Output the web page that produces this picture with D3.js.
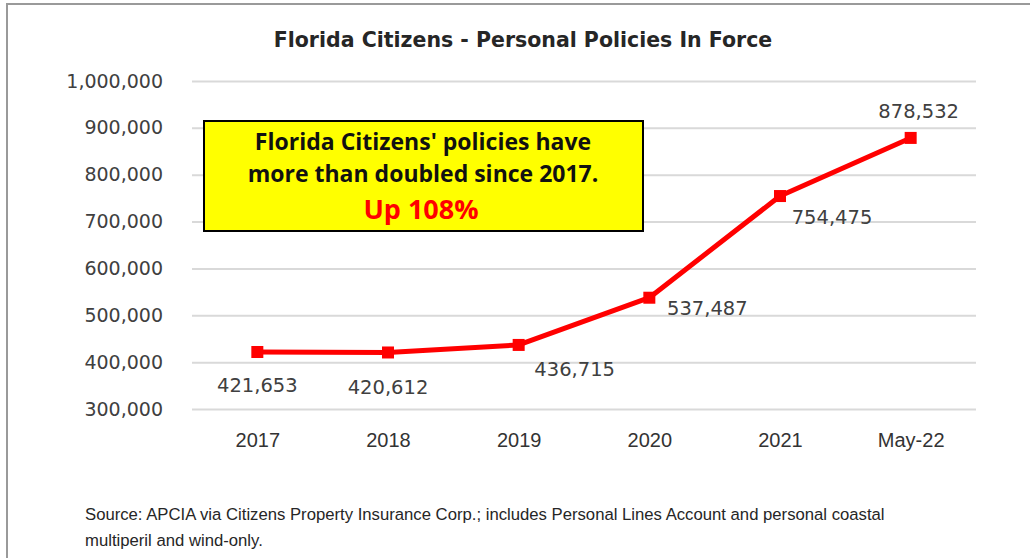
<!DOCTYPE html>
<html>
<head>
<meta charset="utf-8">
<script src="https://cdn.jsdelivr.net/npm/d3@7"></script>
<style>
  body { margin: 0; background: #fff; }
  svg { display: block; }
</style>
</head>
<body>
<div class="forSvg"></div>
<script>
// data
const categories = ["2017", "2018", "2019", "2020", "2021", "May-22"];
const policies = [421653, 420612, 436715, 537487, 754475, 878532];
const yTicks = [300000, 400000, 500000, 600000, 700000, 800000, 900000, 1000000];
const titleText = "Florida Citizens - Personal Policies In Force";
const noteLines = ["Florida Citizens' policies have", "more than doubled since 2017."];
const noteHighlight = "Up 108%";
const sourceLines = [
  "Source: APCIA via Citizens Property Insurance Corp.; includes Personal Lines Account and personal coastal",
  "multiperil and wind-only."
];

// label nudges (px) so they sit like the original
const labelDx = [0, 0, 56, 58, 52, 8];
const labelDy = [34, 35, 25, 11, 21, -26];

// svg size & plot area
const svg_w = 1030;
const svg_h = 558;
const plotL = 192, plotR = 976, plotT = 81, plotB = 409;

const svg = d3.select(".forSvg")
  .append("svg")
  .attr("width", svg_w)
  .attr("height", svg_h);

// outer frame (only top & left visible in the shot)
svg.append("rect")
  .attr("x", 7).attr("y", 4)
  .attr("width", svg_w + 20).attr("height", svg_h + 20)
  .attr("fill", "none")
  .attr("stroke", "#9a9a9a")
  .attr("stroke-width", 2);

const xScale = d3.scalePoint()
  .domain(categories)
  .range([plotL, plotR])
  .padding(0.5);

const yScale = d3.scaleLinear()
  .domain([300000, 1000000])
  .range([plotB, plotT]);

// y axis with gridlines
const yAxis = d3.axisLeft(yScale)
  .tickValues(yTicks)
  .tickSize(-(plotR - plotL))
  .tickPadding(29)
  .tickFormat(d3.format(","));

const gy = svg.append("g")
  .attr("transform", `translate(${plotL},0)`)
  .call(yAxis);
gy.select(".domain").remove();
gy.selectAll(".tick line").attr("stroke", "#d9d9d9").attr("stroke-width", 2);
gy.selectAll(".tick text")
  .attr("fill", "#404040")
  .style("font-family", "DejaVu Sans")
  .style("font-size", "19px");

// x axis labels
const xAxis = d3.axisBottom(xScale).tickSize(0);
const gx = svg.append("g")
  .attr("transform", `translate(0,${plotB})`)
  .call(xAxis);
gx.select(".domain").remove();
gx.selectAll(".tick text")
  .attr("y", 31)
  .attr("dy", "0.35em")
  .attr("fill", "#333")
  .style("font-family", "Liberation Sans")
  .style("font-size", "20px");

// title
svg.append("text")
  .attr("x", 523).attr("y", 40)
  .attr("text-anchor", "middle")
  .attr("dominant-baseline", "central")
  .attr("fill", "#262626")
  .style("font-family", "DejaVu Sans")
  .style("font-weight", 700)
  .style("font-size", "20.5px")
  .text(titleText);

// line
const line = d3.line()
  .x((d, i) => xScale(categories[i]))
  .y(d => yScale(d));

svg.append("path")
  .datum(policies)
  .attr("d", line)
  .attr("fill", "none")
  .attr("stroke", "#ff0000")
  .attr("stroke-width", 5)
  .attr("stroke-linejoin", "round");

// square markers
svg.selectAll("rect.mark")
  .data(policies)
  .enter()
  .append("rect")
  .attr("class", "mark")
  .attr("x", (d, i) => xScale(categories[i]) - 6)
  .attr("y", d => yScale(d) - 6)
  .attr("width", 12)
  .attr("height", 12)
  .attr("fill", "#ff0000");

// data labels
svg.selectAll("text.lbl")
  .data(policies)
  .enter()
  .append("text")
  .attr("class", "lbl")
  .attr("x", (d, i) => xScale(categories[i]) + labelDx[i])
  .attr("y", (d, i) => yScale(d) + labelDy[i])
  .attr("text-anchor", "middle")
  .attr("dominant-baseline", "central")
  .attr("fill", "#404040")
  .style("font-family", "DejaVu Sans")
  .style("font-size", "19.5px")
  .text(d => d3.format(",")(d));

// yellow call-out box
svg.append("rect")
  .attr("x", 204).attr("y", 121)
  .attr("width", 439).attr("height", 110)
  .attr("fill", "#ffff00")
  .attr("stroke", "#000")
  .attr("stroke-width", 2);

noteLines.forEach((t, i) => {
  svg.append("text")
    .attr("x", 423).attr("y", 141 + i * 32)
    .attr("text-anchor", "middle")
    .attr("dominant-baseline", "central")
    .attr("fill", "#111")
    .style("font-family", "Open Sans")
    .style("font-weight", 700)
    .style("font-size", "23px")
    .text(t);
});

svg.append("text")
  .attr("x", 421).attr("y", 208)
  .attr("text-anchor", "middle")
  .attr("dominant-baseline", "central")
  .attr("fill", "#ff0000")
  .style("font-family", "Open Sans")
  .style("font-weight", 700)
  .style("font-size", "27px")
  .text(noteHighlight);

// source note
sourceLines.forEach((t, i) => {
  svg.append("text")
    .attr("x", 85).attr("y", 514 + i * 26)
    .attr("dominant-baseline", "central")
    .attr("fill", "#262626")
    .style("font-family", "Liberation Sans")
    .style("font-size", "16.7px")
    .text(t);
});
</script>
</body>
</html>
